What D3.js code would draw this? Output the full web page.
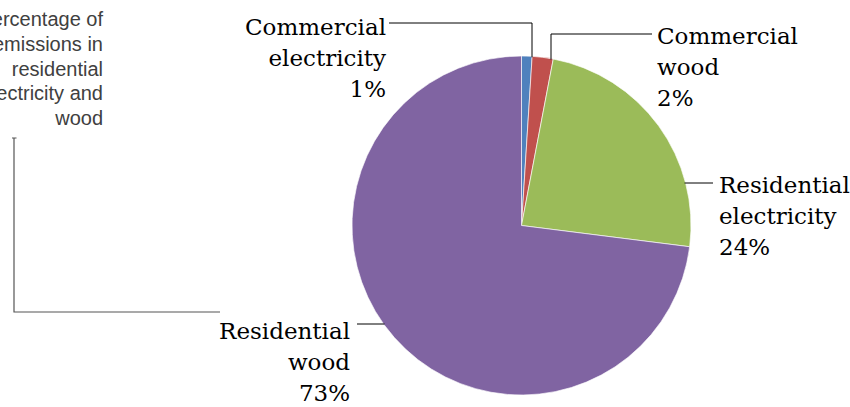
<!DOCTYPE html>
<html>
<head>
<meta charset="utf-8">
<script src="https://cdn.jsdelivr.net/npm/d3@7"></script>
<style>
  html, body { margin: 0; padding: 0; background: #fff; }
  svg { display: block; }
</style>
</head>
<body>
<svg id="chart" width="850" height="407"></svg>
<script>
// Emission shares by sector (percent)
const categories = ["Commercial electricity", "Commercial wood", "Residential electricity", "Residential wood"];
const labelLines = [["Commercial", "electricity"], ["Commercial", "wood"], ["Residential", "electricity"], ["Residential", "wood"]];
const shares = [1, 2, 24, 73];
const colors = ["#4F81BD", "#C0504D", "#9BBB59", "#8064A2"];
const titleLines = ["Percentage of", "emissions in", "residential", "electricity and", "wood"];

const svg = d3.select("#chart");
const cx = 521.5, cy = 225.5, r = 169.5;

// Title block on the left, right-aligned
const title = svg.append("text")
  .attr("text-anchor", "end")
  .attr("font-family", "'Liberation Sans', Arial, sans-serif")
  .attr("font-size", 20)
  .attr("fill", "#404040");
titleLines.forEach((t, i) => {
  title.append("tspan").attr("x", 103).attr("y", 26 + i * 24.8).text(t);
});

// Bracket line from the title down towards the largest slice label
svg.append("path")
  .attr("d", d3.line()([[14, 138], [14, 312], [220, 312]]))
  .attr("fill", "none").attr("stroke", "#555").attr("stroke-width", 1.2);
svg.append("path")
  .attr("d", d3.line()([[12, 138], [16.5, 138]]))
  .attr("fill", "none").attr("stroke", "#555").attr("stroke-width", 1);

// Pie
const pie = d3.pie().sort(null).value(d => d).startAngle(0).endAngle(2 * Math.PI);
const arc = d3.arc().innerRadius(0).outerRadius(r);
const g = svg.append("g").attr("transform", `translate(${cx},${cy})`);
g.selectAll("path.slice")
  .data(pie(shares))
  .join("path")
  .attr("class", "slice")
  .attr("d", arc)
  .attr("fill", (d, i) => colors[i])
  .attr("stroke", "#fff")
  .attr("stroke-width", 0.8)
  .attr("stroke-opacity", 0.8);

// Label layout: anchor, x, first baseline, leader geometry
const layout = [
  { anchor: "end",   x: 386, y: 35,  leader: { type: "elbow", y: 23, x0: 389, x1: 532 } },
  { anchor: "start", x: 657, y: 44,  leader: { type: "elbow", y: 34, x0: 652, x1: 551 } },
  { anchor: "start", x: 719, y: 193, leader: { type: "flat",  y: 183, x0: 713, side: 1 } },
  { anchor: "end",   x: 350, y: 339, leader: { type: "flat",  y: 324, x0: 357, side: -1 } }
];

const lineGap = 31;
const lbl = svg.append("g")
  .attr("font-family", "'DejaVu Serif', Georgia, serif")
  .attr("font-size", 23)
  .attr("fill", "#000");

shares.forEach((v, i) => {
  const L = layout[i];
  const t = lbl.append("text").attr("text-anchor", L.anchor);
  const lines = labelLines[i].concat([v + "%"]);
  lines.forEach((s, k) => {
    t.append("tspan").attr("x", L.x).attr("y", L.y + k * lineGap).text(s);
  });

  // Leader lines end on the pie rim
  let pts;
  const ld = L.leader;
  if (ld.type === "elbow") {
    const yRim = cy - Math.sqrt(r * r - (ld.x1 - cx) * (ld.x1 - cx));
    pts = [[ld.x0, ld.y], [ld.x1, ld.y], [ld.x1, yRim + 1]];
  } else {
    const xRim = cx + ld.side * Math.sqrt(r * r - (ld.y - cy) * (ld.y - cy));
    pts = [[ld.x0, ld.y], [xRim - ld.side, ld.y]];
  }
  svg.append("path")
    .attr("d", d3.line()(pts))
    .attr("fill", "none")
    .attr("stroke", "#000")
    .attr("stroke-width", 1);
});
</script>
</body>
</html>
